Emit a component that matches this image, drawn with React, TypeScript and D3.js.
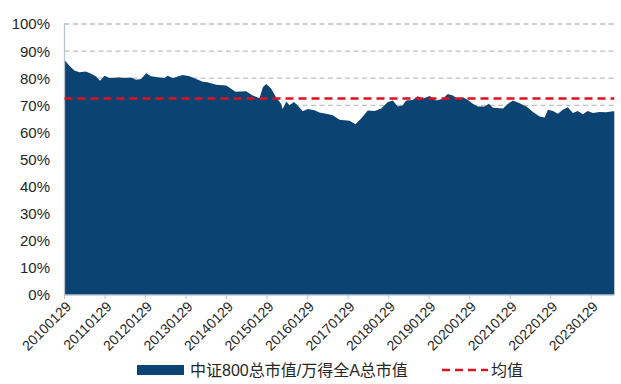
import React from "react";
import * as d3 from "d3";

const dates: string[] = [
  "2010-01-29","2010-03-14","2010-04-28","2010-06-12","2010-08-10","2010-09-26","2010-11-10","2010-12-16",
  "2011-01-25","2011-03-09","2011-06-07","2011-08-07","2011-09-21","2011-11-05","2011-12-20",
  "2012-02-04","2012-03-19","2012-06-02","2012-07-17","2012-08-16","2012-10-01","2012-12-30",
  "2013-03-01","2013-04-30","2013-06-28","2013-08-09","2013-10-27",
  "2014-01-26","2014-03-11","2014-04-19","2014-07-24","2014-09-22","2014-11-22","2014-12-22",
  "2015-01-21","2015-03-06","2015-04-20","2015-06-04","2015-06-18","2015-07-22","2015-08-18","2015-09-29","2015-11-02","2015-12-17",
  "2016-01-31","2016-03-31","2016-05-15","2016-07-14","2016-09-12","2016-11-12",
  "2017-02-10","2017-04-05","2017-05-26","2017-07-25","2017-09-24","2017-11-23",
  "2018-01-22","2018-03-07","2018-04-21","2018-06-05","2018-07-05","2018-09-03","2018-10-18","2018-12-03",
  "2019-02-02","2019-04-02","2019-06-01","2019-07-16","2019-08-30","2019-10-14","2019-11-29",
  "2020-01-13","2020-02-27","2020-04-12","2020-06-12","2020-07-20","2020-08-26","2020-11-25",
  "2021-01-09","2021-02-23","2021-04-23","2021-06-23","2021-08-22","2021-10-21","2021-12-05",
  "2022-01-04","2022-02-18","2022-04-04","2022-05-18","2022-07-02","2022-08-16","2022-09-30","2022-11-14","2022-12-29",
  "2023-02-13","2023-04-14","2023-06-13","2023-08-12","2023-08-25",
];

const ratioValues: number[] = [
  86.7, 84.6, 82.8, 82.2, 82.5, 81.6, 80.6, 79.1,
  80.9, 80.1, 80.3, 80.1, 80.3, 79.4, 79.7,
  81.8, 80.7, 80.3, 80.1, 80.9, 80.1, 81.2,
  80.7, 79.7, 78.7, 78.5, 77.6,
  77.3, 76.1, 75.0, 75.2, 73.6, 72.6, 76.7,
  77.9, 76.2, 73.0, 70.6, 68.6, 71.4, 70.0, 71.2, 69.8, 67.8,
  68.6, 68.2, 67.3, 66.9, 66.3, 64.7,
  64.3, 63.0, 65.1, 68.1, 67.9, 68.8,
  71.2, 71.8, 69.6, 70.0, 71.8, 72.0, 73.3, 72.4,
  73.4, 71.8, 72.4, 74.2, 73.6, 72.4, 73.0,
  72.0, 70.6, 69.6, 69.6, 70.6, 69.1, 68.8,
  70.6, 71.8, 70.8, 69.6, 67.5, 65.9, 65.5,
  68.4, 67.9, 66.9, 68.4, 69.3, 67.2, 67.9, 66.7, 67.9,
  67.2, 67.5, 67.4, 67.8, 67.8,
];

const meanValue = 72.5;
const yTicks: number[] = [0, 10, 20, 30, 40, 50, 60, 70, 80, 90, 100];
const xTickLabels: string[] = [
  "20100129","20110129","20120129","20130129","20140129","20150129","20160129",
  "20170129","20180129","20190129","20200129","20210129","20220129","20230129",
];
const seriesName = "中证800总市值/万得全A总市值";
const meanName = "均值";

const W = 621;
const H = 384;
const left = 64.5;
const right = 614.3;
const top = 24;
const bottom = 295;

const parse = d3.timeParse("%Y%m%d");
const parseIso = d3.timeParse("%Y-%m-%d");

export default function App() {
  const data = dates.map((d, i) => ({ date: parseIso(d) as Date, v: ratioValues[i] }));
  const x = d3
    .scaleTime()
    .domain([data[0].date, data[data.length - 1].date])
    .range([left, right]);
  const y = d3.scaleLinear().domain([0, 100]).range([bottom, top]);
  const area = d3
    .area<{ date: Date; v: number }>()
    .x((d) => x(d.date))
    .y0(y(0))
    .y1((d) => y(d.v));

  const font = "'Liberation Sans', Arial, 'Noto Sans CJK SC', sans-serif";

  return (
    <svg
      width={W}
      height={H}
      style={{ position: "absolute", left: 0, top: 0, background: "#fff" }}
      fontFamily={font}
    >
      {yTicks.filter((t) => t > 0).map((t) => (
        <line
          key={"g" + t}
          x1={left}
          x2={right}
          y1={y(t)}
          y2={y(t)}
          stroke="#c0c0c0"
          strokeWidth={1.3}
          strokeDasharray="5,3.5"
        />
      ))}
      <path d={area(data) || ""} fill="#0b4473" />
      <line x1={left} x2={left} y1={top - 1} y2={bottom} stroke="#b8c3cf" strokeWidth={1.3} />
      <line x1={left} x2={right} y1={bottom} y2={bottom} stroke="#b8c3cf" strokeWidth={1.3} />
      {xTickLabels.map((lab) => {
        const tx = x(parse(lab) as Date);
        return (
          <g key={lab}>
            <line x1={tx} x2={tx} y1={bottom} y2={bottom + 4} stroke="#b8c3cf" strokeWidth={1} />
            <text
              transform={`translate(${tx + 4},${bottom + 9}) rotate(-45)`}
              textAnchor="end"
              dy="0.35em"
              fontSize={14}
              fill="#262626"
            >
              {lab}
            </text>
          </g>
        );
      })}
      {yTicks.map((t) => (
        <text
          key={"y" + t}
          x={50}
          y={y(t)}
          dy="0.36em"
          textAnchor="end"
          fontSize={15}
          fill="#262626"
        >
          {t + "%"}
        </text>
      ))}
      <line
        x1={left}
        x2={right}
        y1={y(meanValue)}
        y2={y(meanValue)}
        stroke="#e0101e"
        strokeWidth={2.6}
        strokeDasharray="8,5"
      />
      <rect x={137} y={365} width={47} height={10} fill="#0b4473" />
      <text x={190} y={370} dy="0.36em" fontSize={16} fill="#262626">
        {seriesName}
      </text>
      <line x1={442} x2={488} y1={370} y2={370} stroke="#e0101e" strokeWidth={2.6} strokeDasharray="8,5" />
      <text x={491} y={370} dy="0.36em" fontSize={16} fill="#262626">
        {meanName}
      </text>
    </svg>
  );
}
